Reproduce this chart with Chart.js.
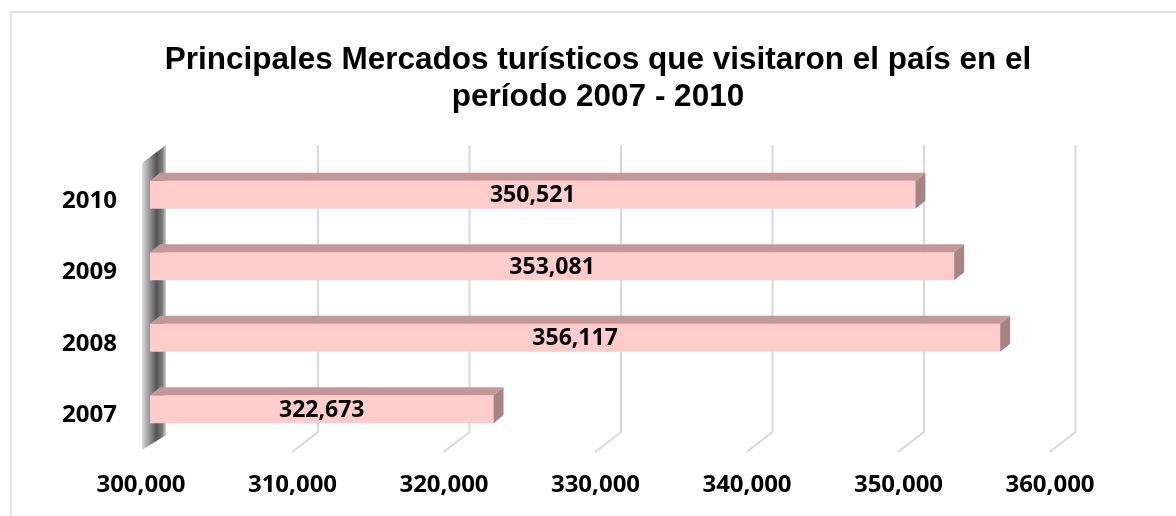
<!DOCTYPE html>
<html>
<head>
<meta charset="utf-8">
<script src="https://cdn.jsdelivr.net/npm/chart.js@4/dist/chart.umd.min.js"></script>
<style>
  html, body { margin: 0; padding: 0; background: #fff; }
  #chart { display: block; }
</style>
</head>
<body>
<canvas id="chart" width="1176" height="516"></canvas>
<script>
const years = ['2007', '2008', '2009', '2010'];
const visitors = [322673, 356117, 353081, 350521];
const xTicks = [300000, 310000, 320000, 330000, 340000, 350000, 360000];
const titleLines = ['Principales Mercados turísticos que visitaron el país en el', 'período 2007 - 2010'];

const fmt = v => v.toLocaleString('en-US');

// depth of the fake 3D look
const DX = 10, DY = 8;

const frame = {
    id: 'frame',
    beforeDraw(chart) {
        const ctx = chart.ctx;
        ctx.save();
        ctx.strokeStyle = '#d9d9d9';
        ctx.lineWidth = 1.5;
        ctx.beginPath();
        ctx.moveTo(11, 600);
        ctx.lineTo(11, 12);
        ctx.lineTo(1200, 12);
        ctx.stroke();
        ctx.restore();
    }
};

const floorGrid = {
    id: 'floorGrid',
    beforeDatasetsDraw(chart) {
        const ctx = chart.ctx;
        const x = chart.scales.x;
        const top = 145, backBottom = 432, frontBottom = 452;
        ctx.save();
        ctx.strokeStyle = '#d9d9d9';
        ctx.lineWidth = 2;
        xTicks.forEach(v => {
            if (v === xTicks[0]) return;
            const bx = x.getPixelForValue(v) + 16.5;
            ctx.beginPath();
            ctx.moveTo(bx, top);
            ctx.lineTo(bx, backBottom);
            ctx.lineTo(bx - 26, frontBottom);
            ctx.stroke();
        });

        // side wall
        const wx = x.getPixelForValue(xTicks[0]);
        const fl = wx - 8, bk = wx + 16;
        const g = ctx.createLinearGradient(fl, 0, bk, 0);
        g.addColorStop(0, '#dadada');
        g.addColorStop(0.3, '#999');
        g.addColorStop(0.6, '#555');
        g.addColorStop(0.85, '#7a7a7a');
        g.addColorStop(1, '#d4d4d4');
        ctx.fillStyle = g;
        ctx.beginPath();
        ctx.moveTo(fl, 163);
        ctx.lineTo(bk, 145);
        ctx.lineTo(bk, 435);
        ctx.lineTo(fl, 450);
        ctx.closePath();
        ctx.fill();
        ctx.restore();
    }
};

const bars3d = {
    id: 'bars3d',
    afterDatasetsDraw(chart) {
        const ctx = chart.ctx;
        const meta = chart.getDatasetMeta(0);
        const left = chart.scales.x.getPixelForValue(xTicks[0]);
        ctx.save();
        meta.data.forEach((bar, i) => {
            const p = bar.getProps(['x', 'y', 'base', 'height'], true);
            const base = Math.max(p.base, left);
            const t = p.y - p.height / 2, b = p.y + p.height / 2;
            ctx.fillStyle = '#c39898';
            ctx.beginPath();
            ctx.moveTo(base, t);
            ctx.lineTo(base + DX, t - DY);
            ctx.lineTo(p.x + DX, t - DY);
            ctx.lineTo(p.x, t);
            ctx.closePath();
            ctx.fill();
            ctx.fillStyle = '#a88383';
            ctx.beginPath();
            ctx.moveTo(p.x, t);
            ctx.lineTo(p.x + DX, t - DY);
            ctx.lineTo(p.x + DX, b - DY);
            ctx.lineTo(p.x, b);
            ctx.closePath();
            ctx.fill();

            ctx.fillStyle = '#000';
            ctx.font = 'bold 23px "Open Sans"';
            ctx.textAlign = 'center';
            ctx.textBaseline = 'middle';
            ctx.fillText(fmt(visitors[i]), (base + p.x) / 2, p.y + 1);
        });
        ctx.restore();
    }
};

new Chart(document.getElementById('chart'), {
    type: 'bar',
    data: {
        labels: years,
        datasets: [{
            data: visitors,
            backgroundColor: '#ffcccc',
            borderWidth: 0,
            categoryPercentage: 1,
            barPercentage: 0.39
        }]
    },
    options: {
        indexAxis: 'y',
        responsive: false,
        animation: false,
        layout: { padding: { left: 20, right: 0, top: 0, bottom: 0 } },
        plugins: {
            legend: { display: false },
            tooltip: { enabled: false },
            title: {
                display: true,
                text: titleLines,
                color: '#000',
                font: { family: '"Liberation Sans", Arial', size: 31.5, weight: 'bold', lineHeight: 1.175 },
                padding: { top: 41.5, bottom: 43.5 }
            }
        },
        scales: {
            x: {
                min: 300000,
                max: 360000,
                afterBuildTicks: s => { s.ticks = xTicks.map(v => ({ value: v })); },
                afterFit: s => { s.height = 71; },
                grid: { display: false },
                border: { display: false },
                ticks: {
                    color: '#000',
                    font: { family: '"Open Sans"', size: 24, weight: 'bold' },
                    padding: 18,
                    labelOffset: -9,
                    callback: v => fmt(v)
                }
            },
            y: {
                reverse: true,
                afterFit: s => { s.width = 130; },
                grid: { display: false },
                border: { display: false },
                ticks: {
                    color: '#000',
                    font: { family: '"Open Sans"', size: 24, weight: 'bold' },
                    padding: 25,
                    labelOffset: 6
                }
            },
            // empty right-hand axis, only reserves the space right of the plot
            yRight: {
                type: 'category',
                position: 'right',
                labels: years,
                afterFit: s => { s.width = 117; },
                grid: { display: false },
                border: { display: false },
                ticks: { display: false }
            }
        }
    },
    plugins: [frame, floorGrid, bars3d]
});
</script>
</body>
</html>
